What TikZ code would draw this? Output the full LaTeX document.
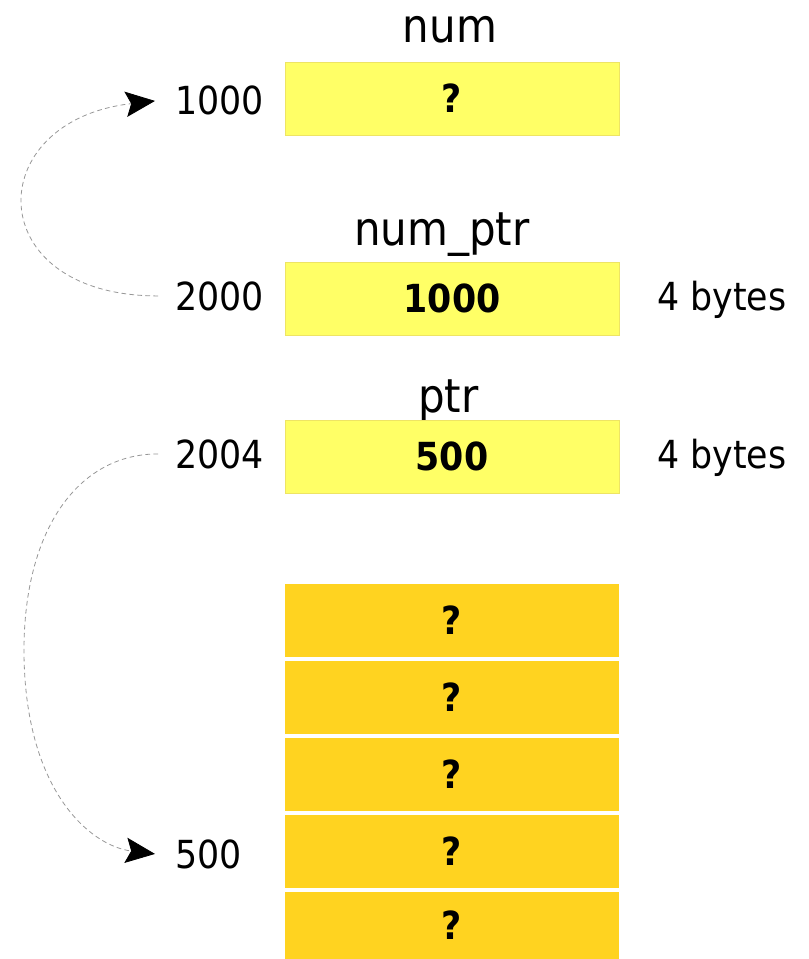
\documentclass[tikz,border=0pt]{standalone}
\usepackage{fontspec}
\setmainfont{DejaVu Sans Condensed}
\usetikzlibrary{arrows.meta,calc}
\definecolor{boxyellow}{RGB}{255,255,102}
\definecolor{boxedge}{RGB}{238,228,100}
\definecolor{boxgold}{RGB}{255,211,32}
\definecolor{linkgray}{RGB}{150,150,150}
\begin{document}
\begin{tikzpicture}[x=0.75pt,y=-0.75pt,
  varbox/.style={fill=boxyellow,draw=boxedge,line width=0.4pt,minimum width=250.5pt,minimum height=54.75pt,inner sep=0pt,font=\fontsize{29}{34}\selectfont\bfseries},
  heapbox/.style={fill=boxgold,minimum width=250.5pt,minimum height=54.75pt,inner sep=0pt,font=\fontsize{29}{34}\selectfont\bfseries},
  varname/.style={anchor=base,inner sep=0pt,font=\fontsize{35}{40}\selectfont},
  addr/.style={anchor=base west,inner sep=0pt,font=\fontsize{29}{34}\selectfont},
  sizelabel/.style={anchor=base west,inner sep=0pt,font=\fontsize{29}{34}\selectfont},
  link/.style={draw=linkgray,line width=0.6pt,dash pattern=on 3.5pt off 2.5pt,
    -{Stealth[length=22pt,width=19pt,inset=4pt,color=black,fill=black]}}]
\useasboundingbox (0,0) rectangle (808,959);

% variable names
\node[varname] (nnum) at (450,43) {num};
\node[varname] (nnumptr) at (442,245) {num\_ptr};
\node[varname] (nptr) at (448.5,412) {ptr};

% variable boxes
\node[varbox] (b1) at (452,98.5) {?};
\node[varbox] (b2) at (452,298.5) {1000};
\node[varbox] (b3) at (452,456.5) {500};

% heap boxes
\node[heapbox] (o1) at (452,620.5) {?};
\node[heapbox] (o2) at (452,697.5) {?};
\node[heapbox] (o3) at (452,774.5) {?};
\node[heapbox] (o4) at (452,851.5) {?};
\node[heapbox,minimum height=50.25pt] (o5) at (452,925.5) {?};

% addresses
\node[addr] (a1000) at (175,115) {1000};
\node[addr] (a2000) at (175,310) {2000};
\node[addr] (a2004) at (175,468) {2004};
\node[addr] (a500) at (175,868) {500};

% sizes
\node[sizelabel] (s2) at (657,310) {4 bytes};
\node[sizelabel] (s3) at (657,468) {4 bytes};

% connectors
\coordinate (st1) at ($(a2000.west)+(-17,0)$);
\coordinate (en1) at ($(a1000.west)+(-20,0)$);
\coordinate (st2) at ($(a2004.west)+(-17,0)$);
\coordinate (en2) at ($(a500.west)+(-20,0)$);
\coordinate (mid2) at (24,650);

\draw[link] (st1) .. controls ($(st1)+(-178,0)$) and ($(en1)+(-175,20)$) .. (en1);
\draw[link] (st2) .. controls ($(st2)+(-80,0)$) and ($(mid2)+(0,-120)$) .. (mid2)
  .. controls ($(mid2)+(0,140)$) and ($(en2)+(-65,-8)$) .. (en2);
\end{tikzpicture}
\end{document}
